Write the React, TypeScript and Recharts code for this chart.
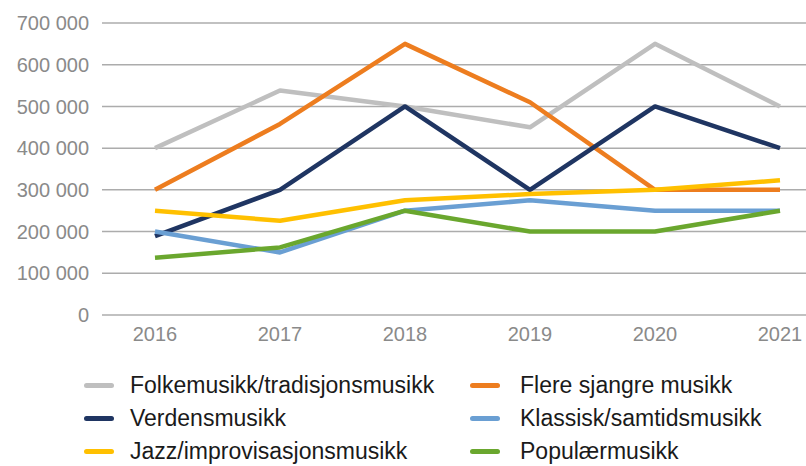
import { LineChart, Line, XAxis, YAxis, CartesianGrid } from 'recharts';

const years = ['2016', '2017', '2018', '2019', '2020', '2021'];

const folkemusikk = [400000, 538000, 500000, 450000, 650000, 500000];
const flereSjangre = [300000, 458000, 650000, 510000, 300000, 300000];
const verdensmusikk = [189000, 300000, 500000, 300000, 500000, 400000];
const klassisk = [200000, 150000, 250000, 275000, 250000, 250000];
const jazz = [250000, 226000, 275000, 290000, 300000, 323000];
const popular = [137000, 162000, 250000, 200000, 200000, 250000];

const yTicks = [0, 100000, 200000, 300000, 400000, 500000, 600000, 700000];

const series = [
  { key: 'folke', name: 'Folkemusikk/tradisjonsmusikk', values: folkemusikk, color: '#bfbfbf' },
  { key: 'flere', name: 'Flere sjangre musikk', values: flereSjangre, color: '#ed7d1f' },
  { key: 'verdens', name: 'Verdensmusikk', values: verdensmusikk, color: '#1f3562' },
  { key: 'klassisk', name: 'Klassisk/samtidsmusikk', values: klassisk, color: '#6a9fd3' },
  { key: 'jazz', name: 'Jazz/improvisasjonsmusikk', values: jazz, color: '#ffc000' },
  { key: 'popular', name: 'Populærmusikk', values: popular, color: '#6aa72e' },
];

const data = years.map((year, i) => {
  const row: Record<string, string | number> = { year };
  series.forEach(s => { row[s.key] = s.values[i]; });
  return row;
});

const formatTick = (v: number) => String(v).replace(/\B(?=(\d{3})+(?!\d))/g, ' ');

// legend drawn outside the chart so it doesn't shrink the plot area
const ChartLegend = () => (
  <div style={{ position: 'absolute', left: 0, top: 370, width: 806, height: 96 }}>
    {series.map((s, i) => {
      const col = i % 2;
      const row = Math.floor(i / 2);
      const left = col === 0 ? 84 : 470;
      const top = row * 33;
      return (
        <div key={s.key} style={{ position: 'absolute', left, top, height: 30, display: 'flex', alignItems: 'center' }}>
          <div style={{ width: 30, height: 5, borderRadius: 3, background: s.color, marginRight: col === 0 ? 16 : 20 }} />
          <span style={{ fontSize: 23, color: '#1a1a1a', whiteSpace: 'nowrap' }}>{s.name}</span>
        </div>
      );
    })}
  </div>
);

export default function App() {
  return (
    <div style={{ position: 'absolute', left: 0, top: 0, width: 806, height: 466, background: '#fff', fontFamily: '"Liberation Sans", Arial, sans-serif' }}>
      <LineChart width={806} height={466} data={data} margin={{ top: 23, right: 0, bottom: 111, left: 0 }}>
        <CartesianGrid vertical={false} stroke="#acacac" strokeWidth={1.5} />
        <XAxis
          dataKey="year"
          axisLine={false}
          tickLine={false}
          tickSize={0}
          tickMargin={12}
          interval={0}
          height={40}
          padding={{ left: 53, right: 26 }}
          tick={{ fill: '#8a8a8a', fontSize: 20 }}
        />
        <YAxis
          width={102}
          domain={[0, 700000]}
          ticks={yTicks}
          interval={0}
          tickFormatter={formatTick}
          axisLine={false}
          tickLine={false}
          tickSize={0}
          tickMargin={13}
          tick={{ fill: '#8a8a8a', fontSize: 20 }}
        />
        {series.map(s => (
          <Line
            key={s.key}
            dataKey={s.key}
            name={s.name}
            stroke={s.color}
            strokeWidth={4.5}
            dot={false}
            activeDot={false}
            strokeLinejoin="round"
            isAnimationActive={false}
          />
        ))}
      </LineChart>
      <ChartLegend />
    </div>
  );
}
